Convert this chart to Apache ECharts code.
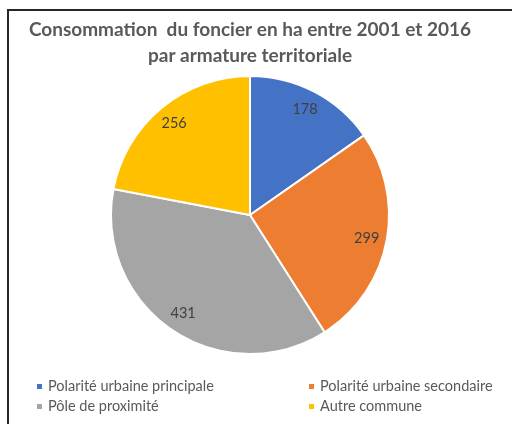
<!DOCTYPE html>
<html>
<head>
<meta charset="utf-8">
<script src="https://cdn.jsdelivr.net/npm/echarts@6/dist/echarts.min.js"></script>
<style>
  html, body { margin: 0; padding: 0; background: #fff; }
  #chart { width: 512px; height: 424px; }
</style>
</head>
<body>
<div id="chart"></div>
<script>
const categories = ['Polarité urbaine principale', 'Polarité urbaine secondaire', 'Pôle de proximité', 'Autre commune']
const values = [178, 299, 431, 256]
const colors = ['#4472C4', '#ED7D31', '#A5A5A5', '#FFC000']

const chart = echarts.init(document.getElementById('chart'))
const pieData = categories.map((name, i) => ({ name: name, value: values[i] }))
const font = 'Lato, "Open Sans", sans-serif'

const legendCommon = {
  orient: 'vertical',
  top: 374,
  icon: 'rect',
  itemWidth: 7,
  itemHeight: 7,
  itemGap: 5,
  selectedMode: false,
  textStyle: { color: '#595959', fontSize: 14.5, fontFamily: font }
}

chart.setOption({
  animation: false,
  color: colors,
  title: {
    text: 'Consommation  du foncier en ha entre 2001 et 2016\npar armature territoriale',
    left: 245,
    textAlign: 'center',
    top: 12,
    textStyle: {
      color: '#595959',
      fontSize: 19,
      fontWeight: 'bold',
      fontFamily: font,
      lineHeight: 26
    }
  },
  graphic: [{
    type: 'rect',
    shape: { x: 8, y: 10, width: 520, height: 430 },
    style: { fill: 'none', stroke: '#262626', lineWidth: 2 },
    silent: true
  }],
  legend: [
    Object.assign({ left: 30, data: [categories[0], categories[2]] }, legendCommon),
    Object.assign({ left: 302, data: [categories[1], categories[3]] }, legendCommon)
  ],
  series: [
    {
      type: 'pie',
      center: [250, 215],
      radius: 139,
      clockwise: true,
      startAngle: 90,
      label: { show: false },
      itemStyle: { borderColor: '#fff', borderWidth: 2 },
      data: pieData
    },
    {
      // transparent ring used only to place the value labels further out
      type: 'pie',
      center: [250, 215],
      radius: [93, 139],
      startAngle: 90,
      silent: true,
      itemStyle: { color: 'transparent', borderWidth: 0 },
      label: {
        show: true,
        position: 'inside',
        formatter: '{c}',
        color: '#404040',
        fontSize: 14.5,
        fontFamily: font
      },
      labelLine: { show: false },
      data: pieData
    }
  ]
})
</script>
</body>
</html>
